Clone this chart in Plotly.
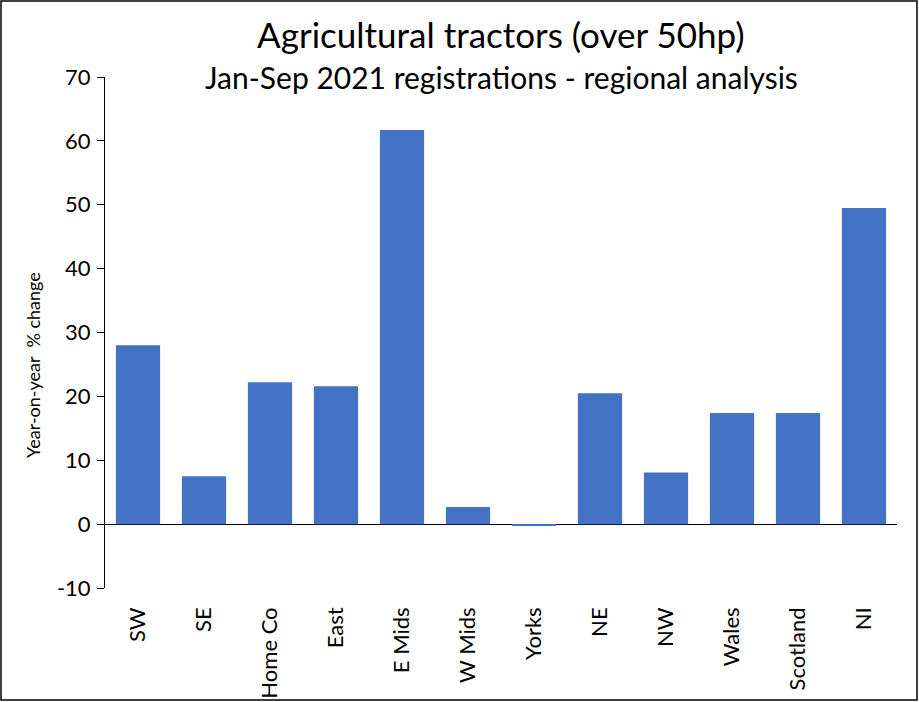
import plotly.graph_objects as go

regions = ["SW", "SE", "Home Co", "East", "E Mids", "W Mids", "Yorks", "NE", "NW", "Wales", "Scotland", "NI"]
pct_change = [28.0, 7.5, 22.2, 21.6, 61.7, 2.7, -0.25, 20.5, 8.1, 17.4, 17.4, 49.5]
y_ticks = [-10, 0, 10, 20, 30, 40, 50, 60, 70]
y_tick_text = ["-10", "0", "10", "20", "30", "40", "50", "60", "70"]
title_line1 = "Agricultural tractors (over 50hp)"
title_line2 = "Jan-Sep 2021 registrations - regional analysis"
y_title = "Year-on-year\u00a0\u00a0% change"

W, H = 919, 702
L, R, T, B = 105, 22, 77, 114
pw, ph = W - L - R, H - T - B
FONT = "Lato, Carlito, Calibri, sans-serif"


def px_x(px):
    return (px - L) / pw


def px_y(py):
    return (H - B - py) / ph


fig = go.Figure()
fig.add_trace(go.Bar(x=list(range(len(regions))), y=pct_change,
                     marker=dict(color="#4472C4", line=dict(width=0)),
                     width=0.67, xaxis="x", yaxis="y", hoverinfo="x+y"))

n = len(regions)
fig.update_layout(
    width=W, height=H,
    margin=dict(l=L, r=R, t=T, b=B, autoexpand=False),
    paper_bgcolor="white", plot_bgcolor="white",
    showlegend=False,
    font=dict(family=FONT, color="black"),
    xaxis=dict(range=[-0.5, n - 0.5], tickvals=list(range(n)), ticktext=regions,
               tickangle=-90, ticks="", showline=False, showgrid=False, zeroline=False,
               automargin=False,
               tickfont=dict(size=22, family=FONT), ticklabelstandoff=14),
    xaxis2=dict(range=[-0.5, n - 0.5], overlaying="x", anchor="free",
                position=10 / 80, side="bottom", automargin=False,
                tickvals=[i + 0.5 for i in range(n)], showticklabels=False,
                ticks="outside", ticklen=8, tickcolor="black", tickwidth=1,
                showline=False, showgrid=False, zeroline=False),
    yaxis=dict(range=[-10, 70], tickvals=y_ticks, ticktext=y_tick_text, showgrid=False,
               showline=True, linecolor="black", linewidth=1, automargin=False,
               ticks="outside", ticklen=7, tickcolor="black",
               zeroline=True, zerolinecolor="black", zerolinewidth=1,
               tickfont=dict(size=22, family=FONT), ticklabelstandoff=2),
)

fig.add_annotation(text=title_line1, xref="paper", yref="paper",
                   x=0.5, y=px_y(34), xanchor="center", yanchor="middle",
                   showarrow=False, font=dict(size=35, family=FONT, color="black"))
fig.add_annotation(text=title_line2, xref="paper", yref="paper",
                   x=0.5, y=px_y(77), xanchor="center", yanchor="middle",
                   showarrow=False, font=dict(size=30, family=FONT, color="black"))
fig.add_annotation(text=y_title, xref="paper", yref="paper",
                   x=px_x(33), y=px_y(365), xanchor="center", yanchor="middle",
                   textangle=-90, showarrow=False,
                   font=dict(size=18, family=FONT, color="black"))

# outer border around the whole chart
fig.add_shape(type="rect", xref="paper", yref="paper",
              x0=px_x(1), x1=px_x(W - 2),
              y0=px_y(H - 2), y1=px_y(1),
              line=dict(color="black", width=1.5), fillcolor="rgba(0,0,0,0)")

fig.write_html("out.html", config={"displayModeBar": False},
               post_script="document.body.style.margin='0px';")
